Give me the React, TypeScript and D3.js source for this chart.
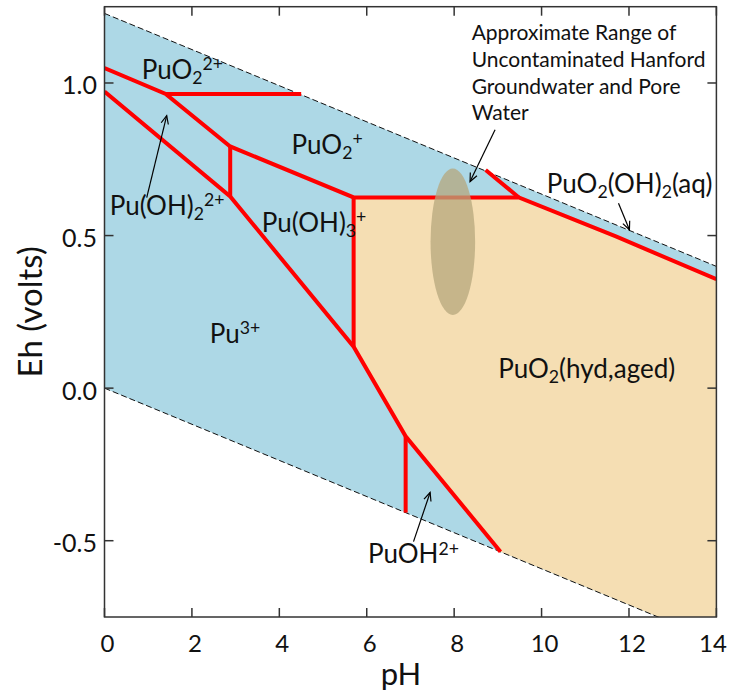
import React from 'react';
import * as d3 from 'd3';

const W = 729;
const H = 694;
const FRAME = { left: 104.5, right: 716.4, top: 6.7, bottom: 617 };

const PH_DOMAIN: [number, number] = [0, 14];
const EH_DOMAIN: [number, number] = [-0.75, 1.25];
const PH_TICKS = [0, 2, 4, 6, 8, 10, 12, 14];
const EH_TICKS = [-0.5, 0.0, 0.5, 1.0];

// water stability limits (pH, Eh)
const UPPER_WATER: [number, number][] = [[0, 1.228], [14, 0.399]];
const LOWER_WATER: [number, number][] = [[0, 0.0], [14, -0.829]];

// PuO2(hyd,aged) solid field
const SOLID_PUO2: [number, number][] = [
  [5.7, 0.625], [9.48, 0.625], [11.7, 0.497], [14.0, 0.357], [14.0, -0.75],
  [12.67, -0.75], [9.06, -0.536], [6.89, -0.158], [5.7, 0.136],
];

// predominance boundaries
const BOUNDARIES: [number, number][][] = [
  [[0, 1.049], [1.4, 0.964], [2.876, 0.792], [5.7, 0.625], [9.48, 0.625], [11.7, 0.497], [14.0, 0.357]],
  [[1.4, 0.964], [4.5, 0.964]],
  [[2.876, 0.792], [2.876, 0.628]],
  [[0, 0.972], [2.876, 0.628], [5.7, 0.136], [6.89, -0.158], [9.06, -0.536]],
  [[5.7, 0.625], [5.7, 0.136]],
  [[8.72, 0.715], [9.48, 0.625]],
  [[6.89, -0.158], [6.89, -0.408]],
];

// Hanford groundwater range ellipse: centre pH, centre Eh, half-width pH, half-height Eh
const ELLIPSE_CENTER: [number, number] = [7.97, 0.48];
const ELLIPSE_RADII: [number, number] = [0.51, 0.24];

// annotation arrows: from -> to (head at "to")
const ARROWS: [[number, number], [number, number]][] = [
  [[0.966, 0.624], [1.423, 0.893]],
  [[8.936, 0.847], [8.364, 0.677]],
  [[11.76, 0.606], [12.01, 0.519]],
  [[7.07, -0.503], [7.45, -0.342]],
];

type Part = { t: string; k?: 'sub' | 'sup' };
const SPECIES: { pH: number; Eh: number; parts: Part[] }[] = [
  { pH: 0.85, Eh: 1.014, parts: [{ t: 'PuO' }, { t: '2', k: 'sub' }, { t: '2+', k: 'sup' }] },
  { pH: 4.28, Eh: 0.768, parts: [{ t: 'PuO' }, { t: '2', k: 'sub' }, { t: '+', k: 'sup' }] },
  { pH: 0.12, Eh: 0.568, parts: [{ t: 'Pu(OH)' }, { t: '2', k: 'sub' }, { t: '2+', k: 'sup' }] },
  { pH: 3.6, Eh: 0.513, parts: [{ t: 'Pu(OH)' }, { t: '3', k: 'sub' }, { t: '+', k: 'sup' }] },
  { pH: 2.41, Eh: 0.149, parts: [{ t: 'Pu' }, { t: '3+', k: 'sup' }] },
  { pH: 9.01, Eh: 0.033, parts: [{ t: 'PuO' }, { t: '2', k: 'sub' }, { t: '(hyd,aged)' }] },
  { pH: 10.12, Eh: 0.639, parts: [{ t: 'PuO' }, { t: '2', k: 'sub' }, { t: '(OH)' }, { t: '2', k: 'sub' }, { t: '(aq)' }] },
  { pH: 6.03, Eh: -0.574, parts: [{ t: 'PuOH' }, { t: '2+', k: 'sup' }] },
];

const HANFORD_LINES = ['Approximate Range of', 'Uncontaminated Hanford', 'Groundwater and Pore', 'Water'];
const HANFORD_POS: [number, number] = [8.4, 1.14];

const FONT = "Lato, 'Open Sans', sans-serif";

function ChemLabel({ x, y, parts, size }: { x: number; y: number; parts: Part[]; size: number }) {
  let cur = 0;
  const subOff = size * 0.2;
  const supOff = -size * 0.33;
  return (
    <text x={x} y={y} fontSize={size} fontFamily={FONT} fill="#111">
      {parts.map((p, i) => {
        const target = p.k === 'sub' ? subOff : p.k === 'sup' ? supOff : 0;
        const dy = target - cur;
        cur = target;
        return (
          <tspan key={i} dy={dy} fontSize={p.k ? size * 0.68 : size}>
            {p.t}
          </tspan>
        );
      })}
    </text>
  );
}

export default function App() {
  const x = d3.scaleLinear().domain(PH_DOMAIN).range([FRAME.left, FRAME.right]);
  const y = d3.scaleLinear().domain(EH_DOMAIN).range([FRAME.bottom, FRAME.top]);
  const line = d3.line<[number, number]>().x((d) => x(d[0])).y((d) => y(d[1]));

  const waterPoly = [...UPPER_WATER, ...[...LOWER_WATER].reverse()];
  const fmt = (v: number) => v.toFixed(1);

  const arrowHead = (a: [number, number], b: [number, number]) => {
    const x1 = x(a[0]), y1 = y(a[1]), x2 = x(b[0]), y2 = y(b[1]);
    const ang = Math.atan2(y2 - y1, x2 - x1);
    const L = 9, spread = 0.42;
    const p1 = [x2 - L * Math.cos(ang - spread), y2 - L * Math.sin(ang - spread)];
    const p2 = [x2 - L * Math.cos(ang + spread), y2 - L * Math.sin(ang + spread)];
    return `M${p1[0]},${p1[1]}L${x2},${y2}L${p2[0]},${p2[1]}`;
  };

  return (
    <svg width={W} height={H} style={{ position: 'absolute', left: 0, top: 0, background: '#fff' }}>
      <defs>
        <clipPath id="plotClip">
          <rect x={FRAME.left} y={FRAME.top} width={FRAME.right - FRAME.left} height={FRAME.bottom - FRAME.top} />
        </clipPath>
      </defs>
      <g clipPath="url(#plotClip)">
        <path d={line(waterPoly) + 'Z'} fill="#add8e6" />
        <path d={line(SOLID_PUO2) + 'Z'} fill="#f5deb3" />
        <path d={line(UPPER_WATER) || ''} fill="none" stroke="#111" strokeWidth={1} strokeDasharray="6,3" />
        <path d={line(LOWER_WATER) || ''} fill="none" stroke="#111" strokeWidth={1} strokeDasharray="6,3" />
        {BOUNDARIES.map((b, i) => (
          <path key={i} d={line(b) || ''} fill="none" stroke="#ff0000" strokeWidth={4} strokeLinejoin="miter" />
        ))}
        <ellipse
          cx={x(ELLIPSE_CENTER[0])}
          cy={y(ELLIPSE_CENTER[1])}
          rx={x(ELLIPSE_RADII[0]) - x(0)}
          ry={y(0) - y(ELLIPSE_RADII[1])}
          fill="rgb(181,167,124)"
          fillOpacity={0.75}
        />
      </g>
      {ARROWS.map(([a, b], i) => (
        <g key={i} stroke="#000" strokeWidth={1.2} fill="none">
          <line x1={x(a[0])} y1={y(a[1])} x2={x(b[0])} y2={y(b[1])} />
          <path d={arrowHead(a, b)} />
        </g>
      ))}
      {SPECIES.map((s, i) => (
        <ChemLabel key={i} x={x(s.pH)} y={y(s.Eh)} parts={s.parts} size={26} />
      ))}
      <text x={x(HANFORD_POS[0])} y={y(HANFORD_POS[1])} fontSize={21} fontFamily={FONT} fill="#111">
        {HANFORD_LINES.map((l, i) => (
          <tspan key={i} x={x(HANFORD_POS[0])} dy={i === 0 ? 0 : 26.7}>
            {l}
          </tspan>
        ))}
      </text>
      {/* frame */}
      <rect
        x={FRAME.left}
        y={FRAME.top}
        width={FRAME.right - FRAME.left}
        height={FRAME.bottom - FRAME.top}
        fill="none"
        stroke="#333"
        strokeWidth={1.5}
      />
      {PH_TICKS.map((t) => (
        <g key={'x' + t} stroke="#333" strokeWidth={1.5}>
          <line x1={x(t)} x2={x(t)} y1={FRAME.bottom} y2={FRAME.bottom - 9} />
          <line x1={x(t)} x2={x(t)} y1={FRAME.top} y2={FRAME.top + 9} />
        </g>
      ))}
      {EH_TICKS.map((t) => (
        <g key={'y' + t} stroke="#333" strokeWidth={1.5}>
          <line x1={FRAME.left} x2={FRAME.left + 9} y1={y(t)} y2={y(t)} />
          <line x1={FRAME.right} x2={FRAME.right - 9} y1={y(t)} y2={y(t)} />
        </g>
      ))}
      {PH_TICKS.map((t) => (
        <text
          key={'xl' + t}
          x={Math.min(x(t) + 3, W - 16)}
          y={652}
          textAnchor="middle"
          fontSize={24}
          fontFamily={FONT}
          fill="#111"
        >
          {t}
        </text>
      ))}
      {EH_TICKS.map((t) => (
        <text key={'yl' + t} x={97} y={y(t) + 11.5} textAnchor="end" fontSize={25} fontFamily={FONT} fill="#111">
          {fmt(t)}
        </text>
      ))}
      <text x={401} y={685} textAnchor="middle" fontSize={31} fontFamily={FONT} fill="#111">
        pH
      </text>
      <text
        transform={`translate(42,${(FRAME.top + FRAME.bottom) / 2}) rotate(-90)`}
        textAnchor="middle"
        fontSize={33}
        fontFamily={FONT}
        fill="#111"
      >
        Eh (volts)
      </text>
    </svg>
  );
}
